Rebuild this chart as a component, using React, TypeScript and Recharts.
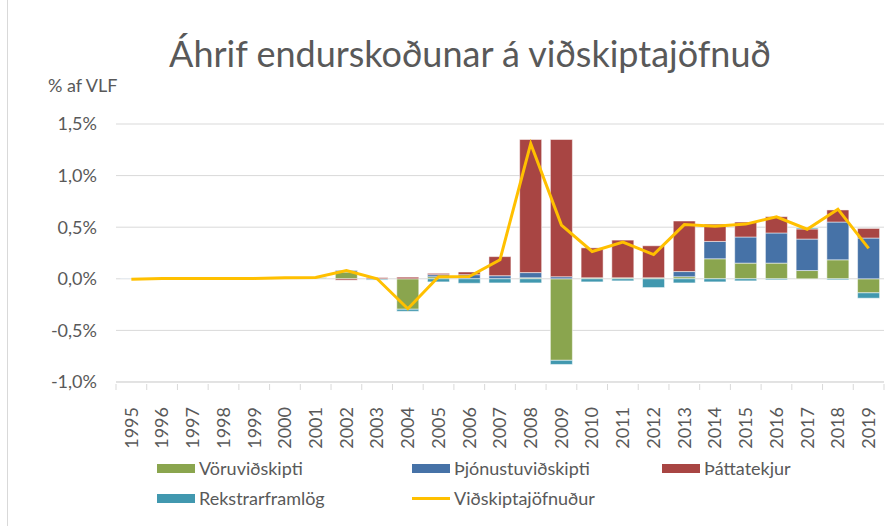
import React from 'react';
import { ComposedChart, Bar, Line, XAxis, YAxis, CartesianGrid, Legend } from 'recharts';

const years = ['1995','1996','1997','1998','1999','2000','2001','2002','2003','2004','2005','2006','2007','2008','2009','2010','2011','2012','2013','2014','2015','2016','2017','2018','2019'];
const voruvidskipti = [0, 0, 0, 0, 0, 0, 0.008, 0.065, 0, -0.295, 0.02, 0, 0, 0.01, -0.79, 0.01, 0.01, 0.01, 0.02, 0.194, 0.152, 0.152, 0.08, 0.184, -0.136];
const thjonustuvidskipti = [0.003, 0, 0, 0, 0, 0.005, 0.004, 0.016, -0.004, 0, 0.02, 0.04, 0.03, 0.05, 0.02, 0, 0, 0, 0.05, 0.168, 0.253, 0.292, 0.305, 0.366, 0.395];
const thattatekjur = [0, 0, 0, 0, 0, 0, 0, -0.013, 0.012, 0.016, 0.013, 0.026, 0.185, 1.29, 1.33, 0.29, 0.365, 0.31, 0.49, 0.168, 0.145, 0.158, 0.098, 0.117, 0.093];
const rekstrarframlog = [0, 0, 0, 0, 0, 0, 0, 0, -0.008, -0.02, -0.03, -0.043, -0.04, -0.04, -0.04, -0.03, -0.02, -0.085, -0.04, -0.03, -0.02, -0.01, 0.01, -0.01, -0.052];
const vidskiptajofnudur = [-0.005, 0.002, 0.003, 0.003, 0.004, 0.01, 0.012, 0.08, 0, -0.29, 0.02, 0.022, 0.185, 1.31, 0.52, 0.265, 0.355, 0.235, 0.525, 0.51, 0.53, 0.6, 0.48, 0.675, 0.295];
const yTicks = [-1, -0.5, 0, 0.5, 1, 1.5];

const seriesNames = ['Vöruviðskipti', 'Þjónustuviðskipti', 'Þáttatekjur', 'Rekstrarframlög', 'Viðskiptajöfnuður'];
const colors = ['#8AA54E', '#4672A7', '#A84543', '#4198AF', '#FFC000'];

const data = years.map((y, i) => ({
  year: y,
  v: voruvidskipti[i],
  th: thjonustuvidskipti[i],
  ta: thattatekjur[i],
  r: rekstrarframlog[i],
  vj: vidskiptajofnudur[i],
}));

const W = 896;
const H = 526;
const margin = { top: 124, right: 12, bottom: 74, left: 16 };
const yAxisWidth = 100;
const xAxisHeight = 70;
const plotWidth = W - margin.left - margin.right - yAxisWidth;
const half = plotWidth / years.length / 2;
const FONT = 'Lato, "Open Sans", sans-serif';
const GRAY = '#595959';

const fmt = (v: number) => v.toFixed(1).replace('.', ',') + '%';

const XTick = (props: any) => {
  const { x, y, payload, index } = props;
  const last = index === years.length - 1;
  return (
    <g>
      <line x1={x - half} x2={x - half} y1={y} y2={y + 6} stroke="#d9d9d9" strokeWidth={1} />
      {last && <line x1={x + half} x2={x + half} y1={y} y2={y + 6} stroke="#d9d9d9" strokeWidth={1} />}
      <text
        transform={`translate(${x},${y + 23}) rotate(-90)`}
        textAnchor="end"
        dy="0.35em"
        fill={GRAY}
        fontSize={18}
        fontFamily={FONT}
      >
        {payload.value}
      </text>
    </g>
  );
};

const LegendContent = () => {
  const items = [0, 1, 2, 3, 4];
  const colLeft = [0, 255, 505];
  return (
    <div style={{ position: 'relative', width: 700, height: 60, fontFamily: FONT, fontSize: 18, color: GRAY }}>
      {items.map((i) => {
        const row = Math.floor(i / 3);
        const col = i % 3;
        return (
          <div
            key={i}
            style={{
              position: 'absolute',
              left: colLeft[col],
              top: row * 30,
              height: 24,
              display: 'flex',
              alignItems: 'center',
              whiteSpace: 'nowrap',
            }}
          >
            {i === 4 ? (
              <span style={{ display: 'inline-block', width: 38, height: 3, background: colors[i], marginRight: 4 }} />
            ) : (
              <span style={{ display: 'inline-block', width: 38, height: 9, background: colors[i], marginRight: 4 }} />
            )}
            <span>{seriesNames[i]}</span>
          </div>
        );
      })}
    </div>
  );
};

export default function App() {
  return (
    <div style={{ position: 'absolute', left: 0, top: 0, width: W, height: H, background: '#fff', overflow: 'hidden' }}>
      <div style={{ position: 'absolute', left: 7, top: 0, width: 1, height: H, background: '#d9d9d9' }} />
      <div
        style={{
          position: 'absolute',
          left: 0,
          width: W,
          top: 31,
          textAlign: 'center',
          fontFamily: FONT,
          fontSize: 36,
          lineHeight: '44px',
          color: GRAY,
          paddingLeft: 44,
          boxSizing: 'border-box',
        }}
      >
        Áhrif endurskoðunar á viðskiptajöfnuð
      </div>
      <div style={{ position: 'absolute', left: 48, top: 74, fontFamily: FONT, fontSize: 18, color: GRAY }}>
        % af VLF
      </div>
      <ComposedChart width={W} height={H} data={data} margin={margin} stackOffset="sign" barCategoryGap="14%">
        <CartesianGrid vertical={false} stroke="#d9d9d9" strokeWidth={1} />
        <XAxis
          dataKey="year"
          height={xAxisHeight}
          tickLine={false}
          tickSize={0}
          axisLine={{ stroke: '#d9d9d9' }}
          interval={0}
          tick={<XTick />}
        />
        <YAxis
          width={yAxisWidth}
          domain={[-1, 1.5]}
          ticks={yTicks}
          tickFormatter={fmt}
          axisLine={false}
          tickLine={false}
          tickSize={0}
          tickMargin={19}
          tick={{ fill: GRAY, fontSize: 18, fontFamily: FONT }}
        />
        <Bar dataKey="v" name={seriesNames[0]} stackId="a" fill={colors[0]} stroke="#ffffff" strokeOpacity={0.5} strokeWidth={1} isAnimationActive={false} />
        <Bar dataKey="th" name={seriesNames[1]} stackId="a" fill={colors[1]} stroke="#ffffff" strokeOpacity={0.5} strokeWidth={1} isAnimationActive={false} />
        <Bar dataKey="ta" name={seriesNames[2]} stackId="a" fill={colors[2]} stroke="#ffffff" strokeOpacity={0.5} strokeWidth={1} isAnimationActive={false} />
        <Bar dataKey="r" name={seriesNames[3]} stackId="a" fill={colors[3]} stroke="#ffffff" strokeOpacity={0.5} strokeWidth={1} isAnimationActive={false} />
        <Line dataKey="vj" name={seriesNames[4]} type="linear" stroke={colors[4]} strokeWidth={3} dot={false} activeDot={false} isAnimationActive={false} />
        <Legend
          layout="horizontal"
          verticalAlign="middle"
          align="center"
          content={<LegendContent />}
          wrapperStyle={{ top: 456, left: 157, width: 700, height: 60 }}
        />
      </ComposedChart>
    </div>
  );
}
